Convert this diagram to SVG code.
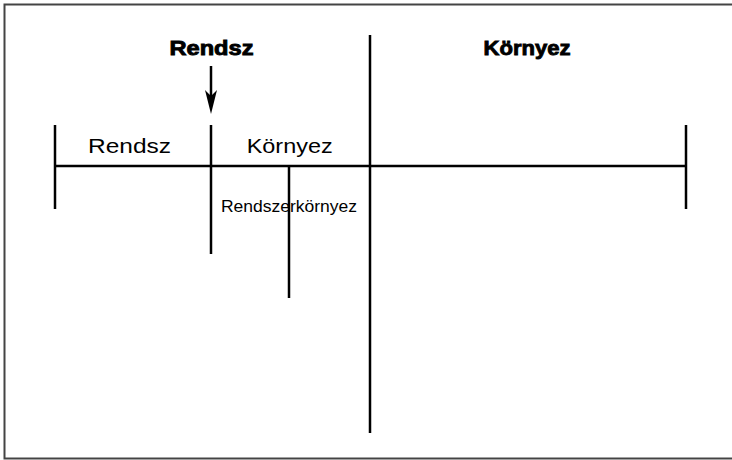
<svg xmlns="http://www.w3.org/2000/svg" width="732" height="460" viewBox="0 0 732 460">
<style>
.ln{stroke:#000;stroke-width:2.5;fill:none}
.t{font-family:"Liberation Sans",Arial,sans-serif;fill:#000}
.b{font-weight:bold;font-size:21px;stroke:#000;stroke-width:0.9}
</style>
<rect x="4.5" y="4.5" width="730" height="454" fill="#fff" stroke="#444" stroke-width="2"/>
<g id="connectors">
<line class="ln" x1="370" y1="35" x2="370" y2="433"/>
<line class="ln" x1="55" y1="166" x2="686" y2="166"/>
<line class="ln" x1="55" y1="125" x2="55" y2="209"/>
<line class="ln" x1="686" y1="125" x2="686" y2="209"/>
<line class="ln" x1="211" y1="125" x2="211" y2="254"/>
<line class="ln" x1="289" y1="166" x2="289" y2="298"/>
<line x1="211" y1="66" x2="211" y2="100" stroke="#000" stroke-width="2.5"/>
<path d="M205,90 L211,114 L217,90 L211,96 Z" fill="#000"/>
</g>
<g id="title-rendsz"><text class="t b" x="211.5" y="55" text-anchor="middle" textLength="84" lengthAdjust="spacingAndGlyphs">Rendsz</text></g>
<g id="title-kornyez"><text class="t b" x="527" y="55" text-anchor="middle" textLength="87" lengthAdjust="spacingAndGlyphs">Környez</text></g>
<g id="label-rendsz"><text class="t" x="129.5" y="153" font-size="21" text-anchor="middle" textLength="83" lengthAdjust="spacingAndGlyphs">Rendsz</text></g>
<g id="label-kornyez"><text class="t" x="289.7" y="153" font-size="21" text-anchor="middle" textLength="86" lengthAdjust="spacingAndGlyphs">Környez</text></g>
<g id="label-rendszerkornyez"><text class="t" x="289" y="212" font-size="16" text-anchor="middle" textLength="136" lengthAdjust="spacingAndGlyphs">Rendszerkörnyez</text></g>
</svg>
